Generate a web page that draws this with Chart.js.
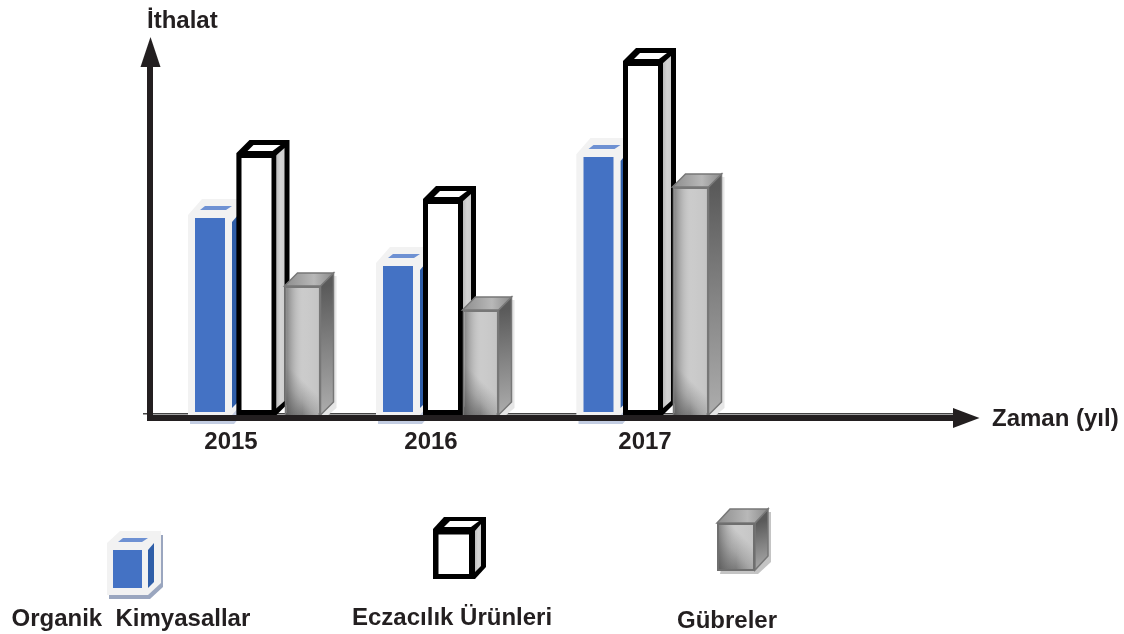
<!DOCTYPE html>
<html lang="tr">
<head>
<meta charset="utf-8">
<title>İthalat</title>
<style>html,body{margin:0;padding:0;background:#fff}canvas{display:block}</style>
<script src="https://cdn.jsdelivr.net/npm/chart.js@4"></script>
</head>
<body>
<canvas id="c" width="1124" height="634"></canvas>
<script>
// Data (the axis has no scale, so values are unitless readings of bar height)
const years = ['2015', '2016', '2017'];
const organikKimyasallar = [200, 152, 261];
const eczacilikUrunleri = [262, 216, 354];
const gubreler = [129, 105, 228];
const seriesNames = ['Organik  Kimyasallar', 'Eczacılık Ürünleri', 'Gübreler'];

// Layout / styling
const INK = '#231f20';
const FONT = 'bold 24px "Liberation Sans", Arial, sans-serif';
const barShift = [[-38, -50, -49.5], [8.5, -5, -5], [54.5, 32.5, 42.5]];
const tickShift = [-17, -17, -3];

function poly(ctx, pts, fill, stroke, lw) {
  ctx.beginPath();
  pts.forEach((p, i) => i ? ctx.lineTo(p[0], p[1]) : ctx.moveTo(p[0], p[1]));
  ctx.closePath();
  if (fill) { ctx.fillStyle = fill; ctx.fill(); }
  if (stroke) { ctx.strokeStyle = stroke; ctx.lineWidth = lw || 1; ctx.lineJoin = 'miter'; ctx.stroke(); }
}
function lin(ctx, x0, y0, x1, y1, stops) {
  const g = ctx.createLinearGradient(x0, y0, x1, y1);
  stops.forEach(s => g.addColorStop(s[0], s[1]));
  return g;
}

function backBlue(ctx, x0, y0, x1, y1, dx, dy, shadowDy, shadowCol) {
  const hull = (ox, oy) => [[x0 + ox, y0 + oy], [x0 + dx + ox, y0 - dy + oy], [x1 + dx + ox, y0 - dy + oy],
    [x1 + dx + ox, y1 - dy + oy], [x1 + ox, y1 + oy], [x0 + ox, y1 + oy]];
  poly(ctx, hull(2, shadowDy), shadowCol);
  poly(ctx, hull(0, 0), '#f2f2f2');
  const t = y0 - dy;
  poly(ctx, [[x0 + dx + 3, t + 7], [x1, t + 7], [x1 - 6, t + 11], [x0 + dx - 2, t + 11]], '#6e91d3');
  poly(ctx, [[x1, y0 + 7], [x1 + 6, y0], [x1 + 6, y1 - 13], [x1, y1 - 7]], '#2f5ea8');
}
function backWhite(ctx, x0, y0, x1, y1, dx, dy) {
  poly(ctx, [[x0, y0], [x0 + dx, y0 - dy], [x1 + dx, y0 - dy], [x1 + dx, y1 - dy], [x1, y1], [x0, y1]], '#000');
  poly(ctx, [[x0 + 17, y0 - 8], [x1 + 4, y0 - 8], [x1 - 4, y0 - 2], [x0 + 11, y0 - 2]], '#fff');
  poly(ctx, [[x1 - 1, y0 + 3], [x1 + dx - 5, y0 - 5], [x1 + dx - 5, y1 - dy - 1], [x1 - 1, y1 - 6]],
    lin(ctx, x1, 0, x1 + dx - 5, 0, [[0, '#bdbdbd'], [0.5, '#d4d4d4'], [1, '#cfcfcf']]));
}
function backGray(ctx, x0, y0, x1, y1, dx, dy, shadowCol) {
  poly(ctx, [[x0 + dx + 3, y0 - dy + 3], [x1 + dx + 3, y0 - dy + 3], [x1 + dx + 3, y1 - dy + 6], [x1 + 3, y1 + 4], [x0 + 3, y1 + 4]], shadowCol);
  poly(ctx, [[x1, y0], [x1 + dx, y0 - dy], [x1 + dx, y1 - dy], [x1, y1]],
    lin(ctx, x1, y0, x1 + dx, y1, [[0, '#5a5a5a'], [0.5, '#858585'], [1, '#adadad']]), '#777', 1.5);
  poly(ctx, [[x0, y0], [x0 + dx, y0 - dy], [x1 + dx, y0 - dy], [x1, y0]],
    lin(ctx, x0, 0, x1 + dx, 0, [[0, '#8d8d8d'], [0.6, '#b8b8b8'], [1, '#8a8a8a']]), '#777', 1.5);
}
function frontGray(ctx, x0, y0, x1, y1) {
  const w = x1 - x0;
  ctx.fillStyle = lin(ctx, x0, y1, x0 + w * 0.8, y1 - w * 0.8, [[0, '#3f3f3f'], [0.6, '#a0a0a0'], [1, '#cbcbcb']]);
  ctx.fillRect(x0, y0, w, y1 - y0);
  ctx.fillStyle = lin(ctx, x0, 0, x1, 0, [[0, 'rgba(105,105,105,.7)'], [0.5, 'rgba(205,205,205,.1)'], [1, 'rgba(185,185,185,.35)']]);
  ctx.fillRect(x0, y0, w, y1 - y0);
}
function rectOf(el) {
  const p = el.getProps(['x', 'y', 'base', 'width'], true);
  return [p.x - p.width / 2, p.y, p.x + p.width / 2, p.base];
}

const cubesAndAxes = {
  id: 'cubesAndAxes',
  afterDatasetUpdate(chart, args) {
    args.meta.data.forEach((el, i) => { el.x += barShift[args.index][i]; });
  },
  beforeDatasetsDraw(chart) {
    const ctx = chart.ctx, y = chart.scales.y.getPixelForValue(0);
    ctx.fillStyle = '#444';
    ctx.fillRect(143, y - 2, 812, 1.5);
  },
  beforeDatasetDraw(chart, args) {
    const ctx = chart.ctx;
    args.meta.data.forEach(el => {
      const [a, b, c, d] = rectOf(el);
      if (args.index === 0) backBlue(ctx, a, b, c, d, 14, 16, 9, '#c3cde2');
      if (args.index === 1) backWhite(ctx, a, b, c, d, 13, 13);
      if (args.index === 2) backGray(ctx, a, b, c, d, 13, 13, '#e6e6e6');
    });
  },
  afterDatasetDraw(chart, args) {
    if (args.index !== 2) return;
    args.meta.data.forEach(el => {
      const [a, b, c, d] = rectOf(el);
      frontGray(chart.ctx, a + 2, b + 2, c - 2, d);
    });
  },
  afterDatasetsDraw(chart) {
    const ctx = chart.ctx, x = chart.scales.x, yBase = chart.scales.y.getPixelForValue(0);
    // Axes with arrowheads
    const ay = yBase + 3;
    ctx.fillStyle = INK;
    ctx.fillRect(147, ay - 3, 808, 6);
    poly(ctx, [[953, ay - 10], [979.5, ay], [953, ay + 10]], INK);
    ctx.fillRect(147, 62, 6, ay + 3 - 62);
    poly(ctx, [[150.5, 37], [160.5, 67], [140.5, 67]], INK);
    // Text
    ctx.fillStyle = INK;
    ctx.font = FONT;
    ctx.textBaseline = 'alphabetic';
    ctx.textAlign = 'center';
    years.forEach((t, i) => ctx.fillText(t, x.getPixelForTick(i) + tickShift[i], 449));
    ctx.textAlign = 'left';
    ctx.fillText('İthalat', 147, 28);
    ctx.fillText('Zaman (yıl)', 992, 426);
    ctx.fillText(seriesNames[0], 11.5, 626);
    ctx.fillText(seriesNames[1], 352, 624.5);
    ctx.fillText(seriesNames[2], 677, 628);
    // Legend cubes
    backBlue(ctx, 107, 543, 148, 595, 13, 12, 4, '#9aa6bf');
    ctx.fillStyle = '#4472c4';
    ctx.fillRect(113, 550, 29, 38);
    backWhite(ctx, 433, 529, 475, 579, 11, 12);
    ctx.fillStyle = '#000'; ctx.fillRect(433, 529, 42, 50);
    ctx.fillStyle = '#fff'; ctx.fillRect(438.5, 534.5, 30.5, 39.5);
    backGray(ctx, 717, 523, 755, 570, 13, 14, '#c4c4c4');
    frontGray(ctx, 718, 524, 754, 569);
    ctx.strokeStyle = '#6f6f6f'; ctx.lineWidth = 2; ctx.strokeRect(718, 524, 36, 46);
  }
};

new Chart(document.getElementById('c'), {
  type: 'bar',
  plugins: [cubesAndAxes],
  data: {
    labels: [...years, ''],
    datasets: [
      { label: seriesNames[0], data: organikKimyasallar, order: 3, barThickness: 44,
        backgroundColor: '#4472c4', borderColor: '#f2f2f2', borderWidth: { top: 3, right: 7, bottom: 3, left: 7 } },
      { label: seriesNames[1], data: eczacilikUrunleri, order: 2, barThickness: 40,
        backgroundColor: '#ffffff', borderColor: '#000000', borderWidth: 5 },
      { label: seriesNames[2], data: gubreler, order: 1, barThickness: 36,
        backgroundColor: '#bbbbbb', borderColor: '#777777', borderWidth: 2 }
    ]
  },
  options: {
    responsive: false,
    animation: false,
    layout: { padding: { left: 148, right: 176, top: 36, bottom: 219 } },
    datasets: { bar: { grouped: false, borderSkipped: false, inflateAmount: 0 } },
    plugins: { legend: { display: false }, tooltip: { enabled: false } },
    scales: {
      x: { display: false },
      y: { display: false, min: 0, max: 379 }
    }
  }
});
</script>
</body>
</html>
